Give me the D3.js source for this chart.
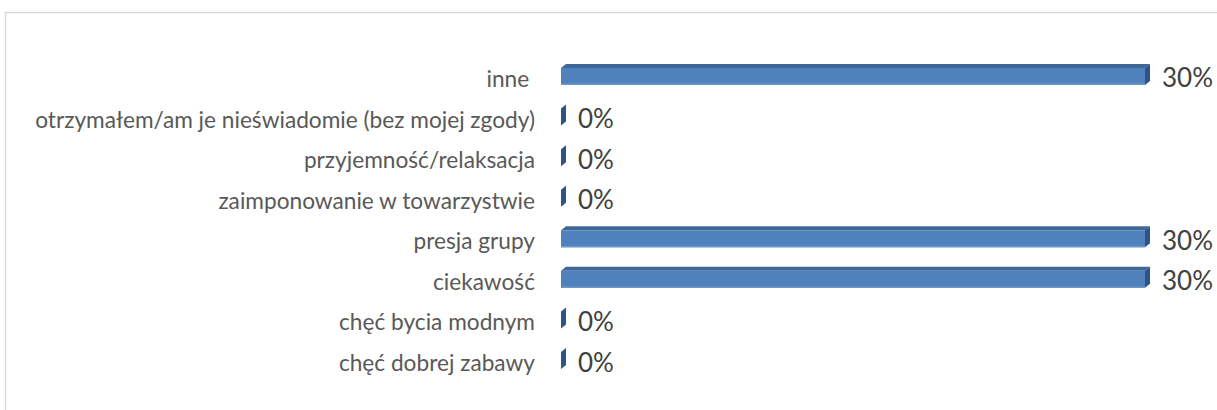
<!DOCTYPE html>
<html>
<head>
<meta charset="utf-8">
<script src="https://cdn.jsdelivr.net/npm/d3@7/dist/d3.min.js"></script>
<style>
  html, body { margin: 0; padding: 0; background: #ffffff; overflow: hidden; }
  svg { display: block; }
</style>
</head>
<body>
<svg id="chart" width="1217" height="410"></svg>
<script>
// ---- data ----
const categories = [
  "inne ",
  "otrzymałem/am je nieświadomie (bez mojej zgody)",
  "przyjemność/relaksacja",
  "zaimponowanie w towarzystwie",
  "presja grupy",
  "ciekawość",
  "chęć bycia modnym",
  "chęć dobrej zabawy"
];
const values = [30, 0, 0, 0, 30, 30, 0, 0];
const valueLabels = ["30%", "0%", "0%", "0%", "30%", "30%", "0%", "0%"];

// ---- layout ----
const svg = d3.select("#chart");
const W = 1217, H = 410;
const depthX = 5, depthY = 4, barH = 17;
const font = "Lato, 'Open Sans', 'DejaVu Sans', sans-serif";

// chart border (frame continues past the right and bottom edges)
svg.append("path")
  .attr("d", `M5.5,${H + 5} V12.5 H${W + 5}`)
  .attr("fill", "none")
  .attr("stroke", "#d9d9d9")
  .attr("stroke-width", 1.5);

const x = d3.scaleLinear().domain([0, 30]).range([561, 1145]);
const y = d3.scalePoint().domain(categories).range([56.2, 380.8]).padding(0.5);

const rows = categories.map((c, i) => ({ c, v: values[i], lab: valueLabels[i] }));

// category labels
const labs = svg.append("g").selectAll("text").data(rows).join("text")
  .attr("x", 535)
  .attr("y", d => y(d.c) + 10.5)
  .attr("text-anchor", "end")
  .attr("fill", "#595959")
  .attr("font-family", font)
  .attr("font-size", 20)
  .style("white-space", "pre")
  .text(d => d.c);
// fit longest label to its width in the reference (~500px)
let maxW = 0;
labs.each(function() { maxW = Math.max(maxW, this.getComputedTextLength()); });
labs.attr("font-size", 20 * 500 / maxW);

// bars (3D style)
const barG = svg.append("g");
rows.forEach(d => {
  const x0 = x(0), x1 = x(d.v);
  const yT = y(d.c) - barH / 2, yB = yT + barH;
  if (x1 > x0) {
    barG.append("rect")
      .attr("x", x0).attr("y", yT)
      .attr("width", x1 - x0).attr("height", barH)
      .attr("fill", "#4f81bd");
    barG.append("rect")
      .attr("x", x0).attr("y", yB - 1.5)
      .attr("width", x1 - x0).attr("height", 1.5)
      .attr("fill", "#6f97c8");
    barG.append("polygon")
      .attr("points", [[x0, yT], [x0 + depthX, yT - depthY], [x1 + depthX, yT - depthY], [x1, yT]].map(p => p.join(",")).join(" "))
      .attr("fill", "#3f6797");
  }
  barG.append("polygon")
    .attr("points", [[x1, yT], [x1 + depthX, yT - depthY], [x1 + depthX, yB - depthY], [x1, yB]].map(p => p.join(",")).join(" "))
    .attr("fill", "#2f5382");
});

// value labels
svg.append("g").selectAll("text").data(rows).join("text")
  .attr("x", d => x(d.v) + depthX + 12)
  .attr("y", d => y(d.c) + 11)
  .attr("fill", "#404040")
  .attr("font-family", font)
  .attr("font-size", 26)
  .text(d => d.lab);
</script>
</body>
</html>
